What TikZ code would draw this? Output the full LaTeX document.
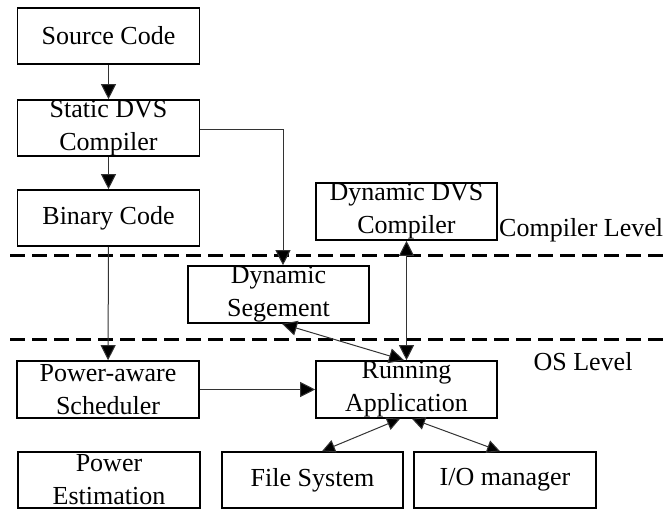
\documentclass[tikz,border=0pt]{standalone}
\usepackage{fontspec}
\setmainfont{Liberation Serif}
\usetikzlibrary{arrows.meta,calc}
\begin{document}
\begin{tikzpicture}[x=1pt,y=-1pt,
  box/.style={draw=black,line width=1.6pt,minimum width=182pt,minimum height=56pt,inner sep=0pt,
    align=center,font=\fontsize{26}{33}\selectfont},
  lbl/.style={inner sep=0pt,font=\fontsize{26}{33}\selectfont},
  conn/.style={line width=1pt,draw=black!80,-{Triangle[length=15pt,width=15pt,fill=black]}},
  dconn/.style={line width=1pt,draw=black!80,{Triangle[length=15pt,width=15pt,fill=black]}-{Triangle[length=15pt,width=15pt,fill=black]}},
  sconn/.style={line width=1pt,draw=black!80,{Triangle[length=13pt,width=13pt,fill=black]}-{Triangle[length=13pt,width=13pt,fill=black]}},
  level/.style={line width=3pt,dash pattern=on 15pt off 7pt}]
\useasboundingbox (0,0) rectangle (668,510);
\node[box] (src) at (108.5,36) {Source Code};
\node[box] (static) at (108.5,128) {Static DVS\\Compiler};
\node[box] (binary) at (108.5,218) {Binary Code};
\node[box,minimum width=181pt,minimum height=57pt] (ddvs) at (406.5,211.5) {Dynamic DVS\\Compiler};
\node[box,minimum width=181pt,minimum height=57pt] (dseg) at (278.5,294.5) {Dynamic\\Segement};
\node[box,minimum height=57pt] (pas) at (108,389.5) {Power-aware\\Scheduler};
\node[box,minimum width=181pt,minimum height=57pt] (run) at (406.5,389.5) {Running\\Application};
\node[box] (pest) at (109,480) {Power\\Estimation};
\node[box,minimum width=181pt] (fs) at (312.5,480) {File System};
\node[box] (io) at (505,480) {I/O manager};
\node[lbl,anchor=west] (cl) at (499,230) {Compiler Level};
\node[lbl] (osl) at (583,362) {OS Level};
\coordinate (d1l) at (10,256);
\coordinate (d1r) at (668,256);
\coordinate (d2l) at (10,339);
\coordinate (d2r) at (668,339);
\draw[level] (d1l) -- (d1r);
\draw[level] (d2l) -- (d2r);
\draw[conn] (src) -- (static);
\draw[conn] (static) -- (binary);
\draw[conn] ($(static.east)+(0,2)$) -| ($(dseg.north)+(4.5,0)$);
\draw[conn] (binary) -- (pas);
\draw[dconn] (ddvs.south) -- (run.north);
\draw[dconn] ($(dseg.south)+(3.5,0)$) -- ($(run.north)+(-2.5,0)$);
\draw[conn] (pas) -- (run);
\draw[sconn] ($(run.south)+(-6.5,0)$) -- ($(fs.north)+(9.5,0)$);
\draw[sconn] ($(run.south)+(5.5,0)$) -- ($(io.north)+(-5,0)$);
\end{tikzpicture}
\end{document}
